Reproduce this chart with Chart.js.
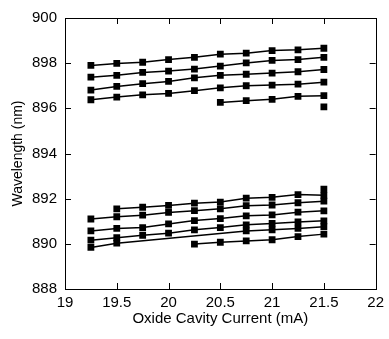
<!DOCTYPE html>
<html>
<head>
<meta charset="utf-8">
<script src="https://cdn.jsdelivr.net/npm/chart.js@4"></script>
<style>
  html, body { margin: 0; padding: 0; background: #fff; }
  canvas { display: block; }
</style>
</head>
<body>
<canvas id="chart" width="389" height="339"></canvas>
<script>
// current steps (mA)
const currents = [19.25, 19.5, 19.75, 20, 20.25, 20.5, 20.75, 21, 21.25, 21.5];

// upper group of modes (nm)
const up1 = [897.90, 897.99, 898.04, 898.16, 898.26, 898.40, 898.44, 898.56, 898.59, 898.66];
const up2 = [897.38, 897.46, 897.59, 897.65, 897.74, 897.87, 898.01, 898.12, 898.16, 898.26];
const up3 = [896.81, 896.97, 897.09, 897.19, 897.35, 897.46, 897.51, 897.56, 897.62, 897.72];
const up4 = [896.38, 896.50, 896.60, 896.66, 896.78, 896.91, 897.00, 897.03, 897.07, 897.16];
const up5 = [null, null, null, null, null, 896.26, 896.34, 896.40, 896.53, 896.56];
const up6 = [null, null, null, null, null, null, null, null, null, 896.06];

// lower group of modes (nm)
const low1 = [null, 891.55, 891.62, 891.70, 891.80, 891.85, 892.02, 892.06, 892.18, 892.15];
const low2 = [891.10, 891.20, 891.27, 891.39, 891.47, 891.55, 891.69, 891.72, 891.82, 891.89];
const low3 = [890.57, 890.68, 890.72, 890.88, 891.03, 891.12, 891.24, 891.28, 891.40, 891.46];
const low4 = [890.16, 890.27, 890.38, 890.47, 890.62, 890.72, 890.84, 890.90, 890.97, 891.02];
const low5 = [889.84, 890.03, null, null, null, null, 890.57, 890.62, 890.68, 890.76];
const low6 = [null, null, null, null, 889.99, 890.07, 890.13, 890.18, 890.32, 890.43];
const low7 = [null, null, null, null, null, null, null, null, null, 892.42];

const allSeries = [up1, up2, up3, up4, up5, up6, low1, low2, low3, low4, low5, low6, low7];

const xTicks = [19, 19.5, 20, 20.5, 21, 21.5, 22];
const yTicks = [888, 890, 892, 894, 896, 898, 900];

const fontFam = '"Liberation Sans", Arial, sans-serif';

function toPoints(arr) {
    const pts = [];
    arr.forEach((v, i) => {
        if (v !== null) pts.push({ x: currents[i], y: v });
    });
    return pts;
}

// inward tick marks + box on all 4 sides
const frameTicks = {
    id: 'frameTicks',
    afterDraw(chart) {
        const c = chart.ctx;
        const a = chart.chartArea;
        const xs = chart.scales.x, ys = chart.scales.y;
        const len = 6;
        c.save();
        c.strokeStyle = '#000';
        c.lineWidth = 1;
        c.beginPath();
        xTicks.forEach(t => {
            const px = Math.round(xs.getPixelForValue(t)) + 0.5;
            c.moveTo(px, a.bottom); c.lineTo(px, a.bottom - len);
            c.moveTo(px, a.top); c.lineTo(px, a.top + len);
        });
        yTicks.forEach(t => {
            const py = Math.round(ys.getPixelForValue(t)) + 0.5;
            c.moveTo(a.left, py); c.lineTo(a.left + len, py);
            c.moveTo(a.right, py); c.lineTo(a.right - len, py);
        });
        c.stroke();
        c.strokeRect(Math.round(a.left) + 0.5, Math.round(a.top) + 0.5,
            Math.round(a.right - a.left), Math.round(a.bottom - a.top));
        c.restore();
    }
};

new Chart(document.getElementById('chart'), {
    type: 'scatter',
    data: {
        datasets: allSeries.map(s => ({
            data: toPoints(s),
            showLine: true,
            borderColor: '#000',
            backgroundColor: '#000',
            borderWidth: 1.5,
            pointStyle: 'rect',
            pointRadius: 4.8,
            pointBorderWidth: 0,
            pointBackgroundColor: '#000'
        }))
    },
    options: {
        responsive: false,
        animation: false,
        layout: { padding: { top: 18, right: 9, left: 0, bottom: 0 } },
        plugins: {
            legend: { display: false },
            tooltip: { enabled: false }
        },
        scales: {
            x: {
                type: 'linear',
                min: 19,
                max: 22,
                afterBuildTicks: s => { s.ticks = xTicks.map(v => ({ value: v })); },
                afterFit: s => { s.height = 50; },
                grid: { display: false, drawTicks: false },
                border: { display: false },
                ticks: {
                    color: '#000', padding: 5, maxRotation: 0,
                    font: { family: fontFam, size: 15 },
                    callback: v => String(v)
                },
                title: {
                    display: true,
                    text: 'Oxide Cavity Current (mA)',
                    color: '#000',
                    font: { family: fontFam, size: 15 },
                    padding: { top: 0, bottom: 11 }
                }
            },
            y: {
                type: 'linear',
                min: 888,
                max: 900,
                afterBuildTicks: s => { s.ticks = yTicks.map(v => ({ value: v })); },
                afterFit: s => { s.width = 65; },
                grid: { display: false, drawTicks: false },
                border: { display: false },
                ticks: {
                    color: '#000', padding: 8,
                    font: { family: fontFam, size: 15 },
                    callback: v => String(v)
                },
                title: {
                    display: true,
                    text: 'Wavelength (nm)',
                    color: '#000',
                    font: { family: fontFam, size: 14 },
                    padding: { top: 10, bottom: 0 }
                }
            }
        }
    },
    plugins: [frameTicks]
});
</script>
</body>
</html>
